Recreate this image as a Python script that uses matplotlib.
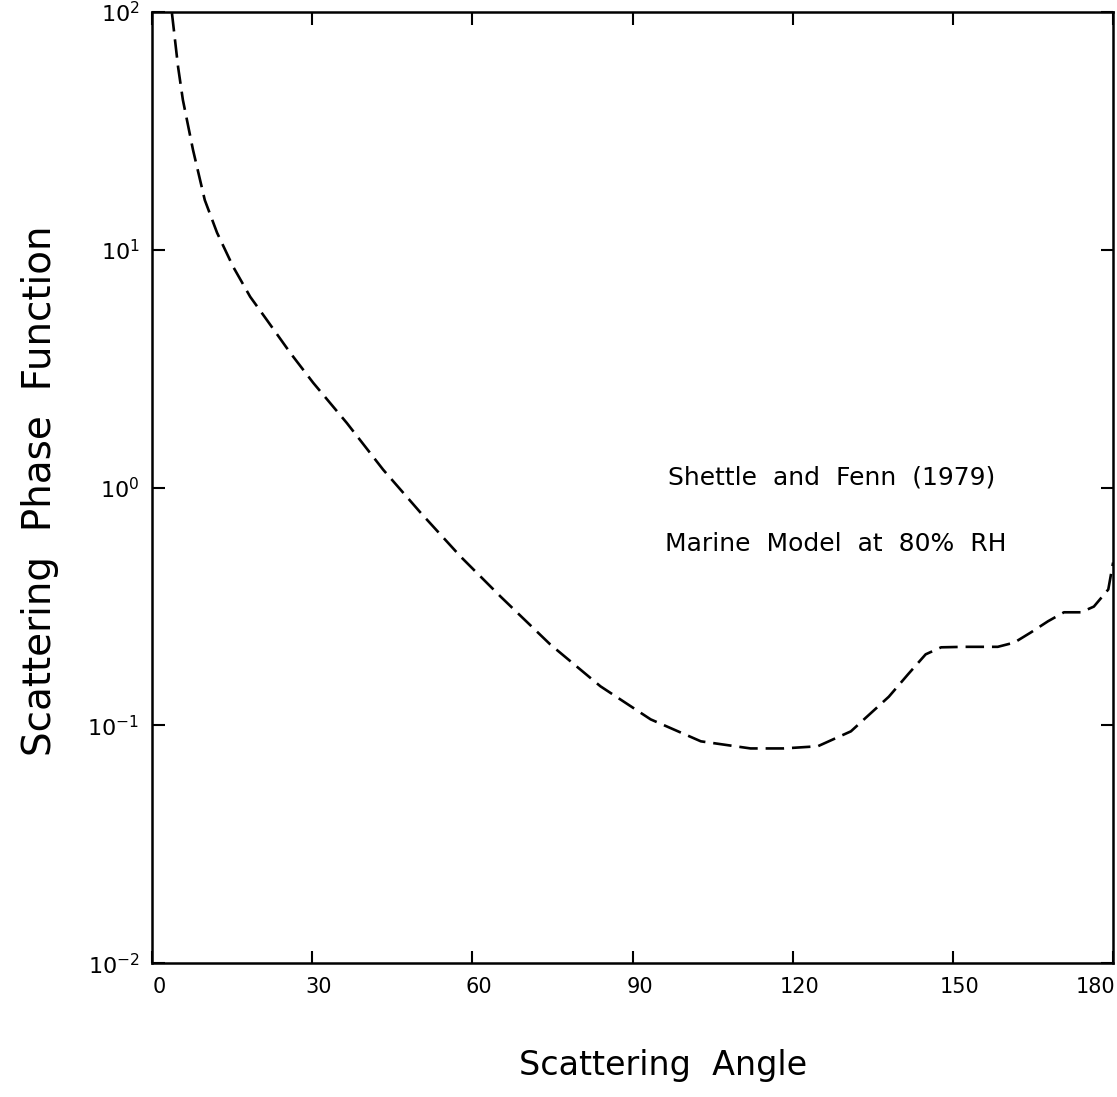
import matplotlib
matplotlib.use("Agg")
import matplotlib.pyplot as plt
from matplotlib.transforms import ScaledTranslation

# values (Shettle & Fenn marine model, 80% RH)
angle = [3.75, 4.9, 5.8, 7.7, 9.9, 12.2, 15.2, 18.4, 21.5, 25.9, 30.2, 36.5,
         43.3, 50.3, 57.8, 65.3, 74.6, 84.0, 93.4, 102.8, 112.1, 118.3, 124.7,
         130.9, 138.0, 141.6, 144.9, 147.8, 152.1, 158.4, 161.5, 164.6, 167.8,
         170.8, 174.0, 176.4, 179.1, 180.0]
phase = [99, 58.8, 42.7, 26.3, 16.2, 11.8, 8.5, 6.35, 5.08, 3.69, 2.76, 1.87,
         1.19, 0.785, 0.513, 0.348, 0.219, 0.146, 0.106, 0.0857, 0.080, 0.080,
         0.0817, 0.0944, 0.132, 0.164, 0.199, 0.213, 0.214, 0.214, 0.223, 0.246,
         0.274, 0.299, 0.299, 0.316, 0.373, 0.484]

x_ticks = [0, 30, 60, 90, 120, 150, 180]
y_ticks = [1e-2, 1e-1, 1e0, 1e1, 1e2]
y_ticklabels = [r"$\mathregular{10^{-2}}$", r"$\mathregular{10^{-1}}$",
                r"$\mathregular{10^{0}}$", r"$\mathregular{10^{1}}$",
                r"$\mathregular{10^{2}}$"]
notes = ["Shettle  and  Fenn  (1979)", "Marine  Model  at  80%  RH"]

fig = plt.figure(figsize=(11.17, 10.97), dpi=100)
ax = fig.add_axes([0.136, 0.122, 0.8605, 0.867])

ax.plot(angle, phase, color="black", lw=1.9, linestyle=(0, (7, 3)))

ax.set_yscale("log")
ax.set_xlim(0, 180)
ax.set_ylim(1e-2, 1e2)
ax.set_xticks(x_ticks)
ax.set_yticks(y_ticks)
ax.set_yticklabels(y_ticklabels)
ax.minorticks_off()
ax.tick_params(direction="in", length=9, width=1.5, top=True, right=True,
               labelsize=15)
ax.tick_params(axis="x", pad=10)
ax.tick_params(axis="y", labelsize=16, pad=9)
for s in ax.spines.values():
    s.set_linewidth(1.8)

# x labels sit a little right of their ticks; the last one is pulled inside
for lab in ax.get_xticklabels():
    dx = -18 if lab.get_text() == "180" else 7
    lab.set_transform(lab.get_transform() + ScaledTranslation(dx / 100, 0, fig.dpi_scale_trans))

ax.set_xlabel("Scattering  Angle", fontsize=24)
ax.xaxis.set_label_coords(0.532, -0.09)
ax.set_ylabel("Scattering  Phase  Function", fontsize=28)
ax.yaxis.set_label_coords(-0.097, 0.497)

ax.text(96.6, 1.10, notes[0], fontsize=18, va="center", ha="left")
ax.text(96.0, 0.582, notes[1], fontsize=18, va="center", ha="left")

plt.savefig("out.png", dpi=100)
